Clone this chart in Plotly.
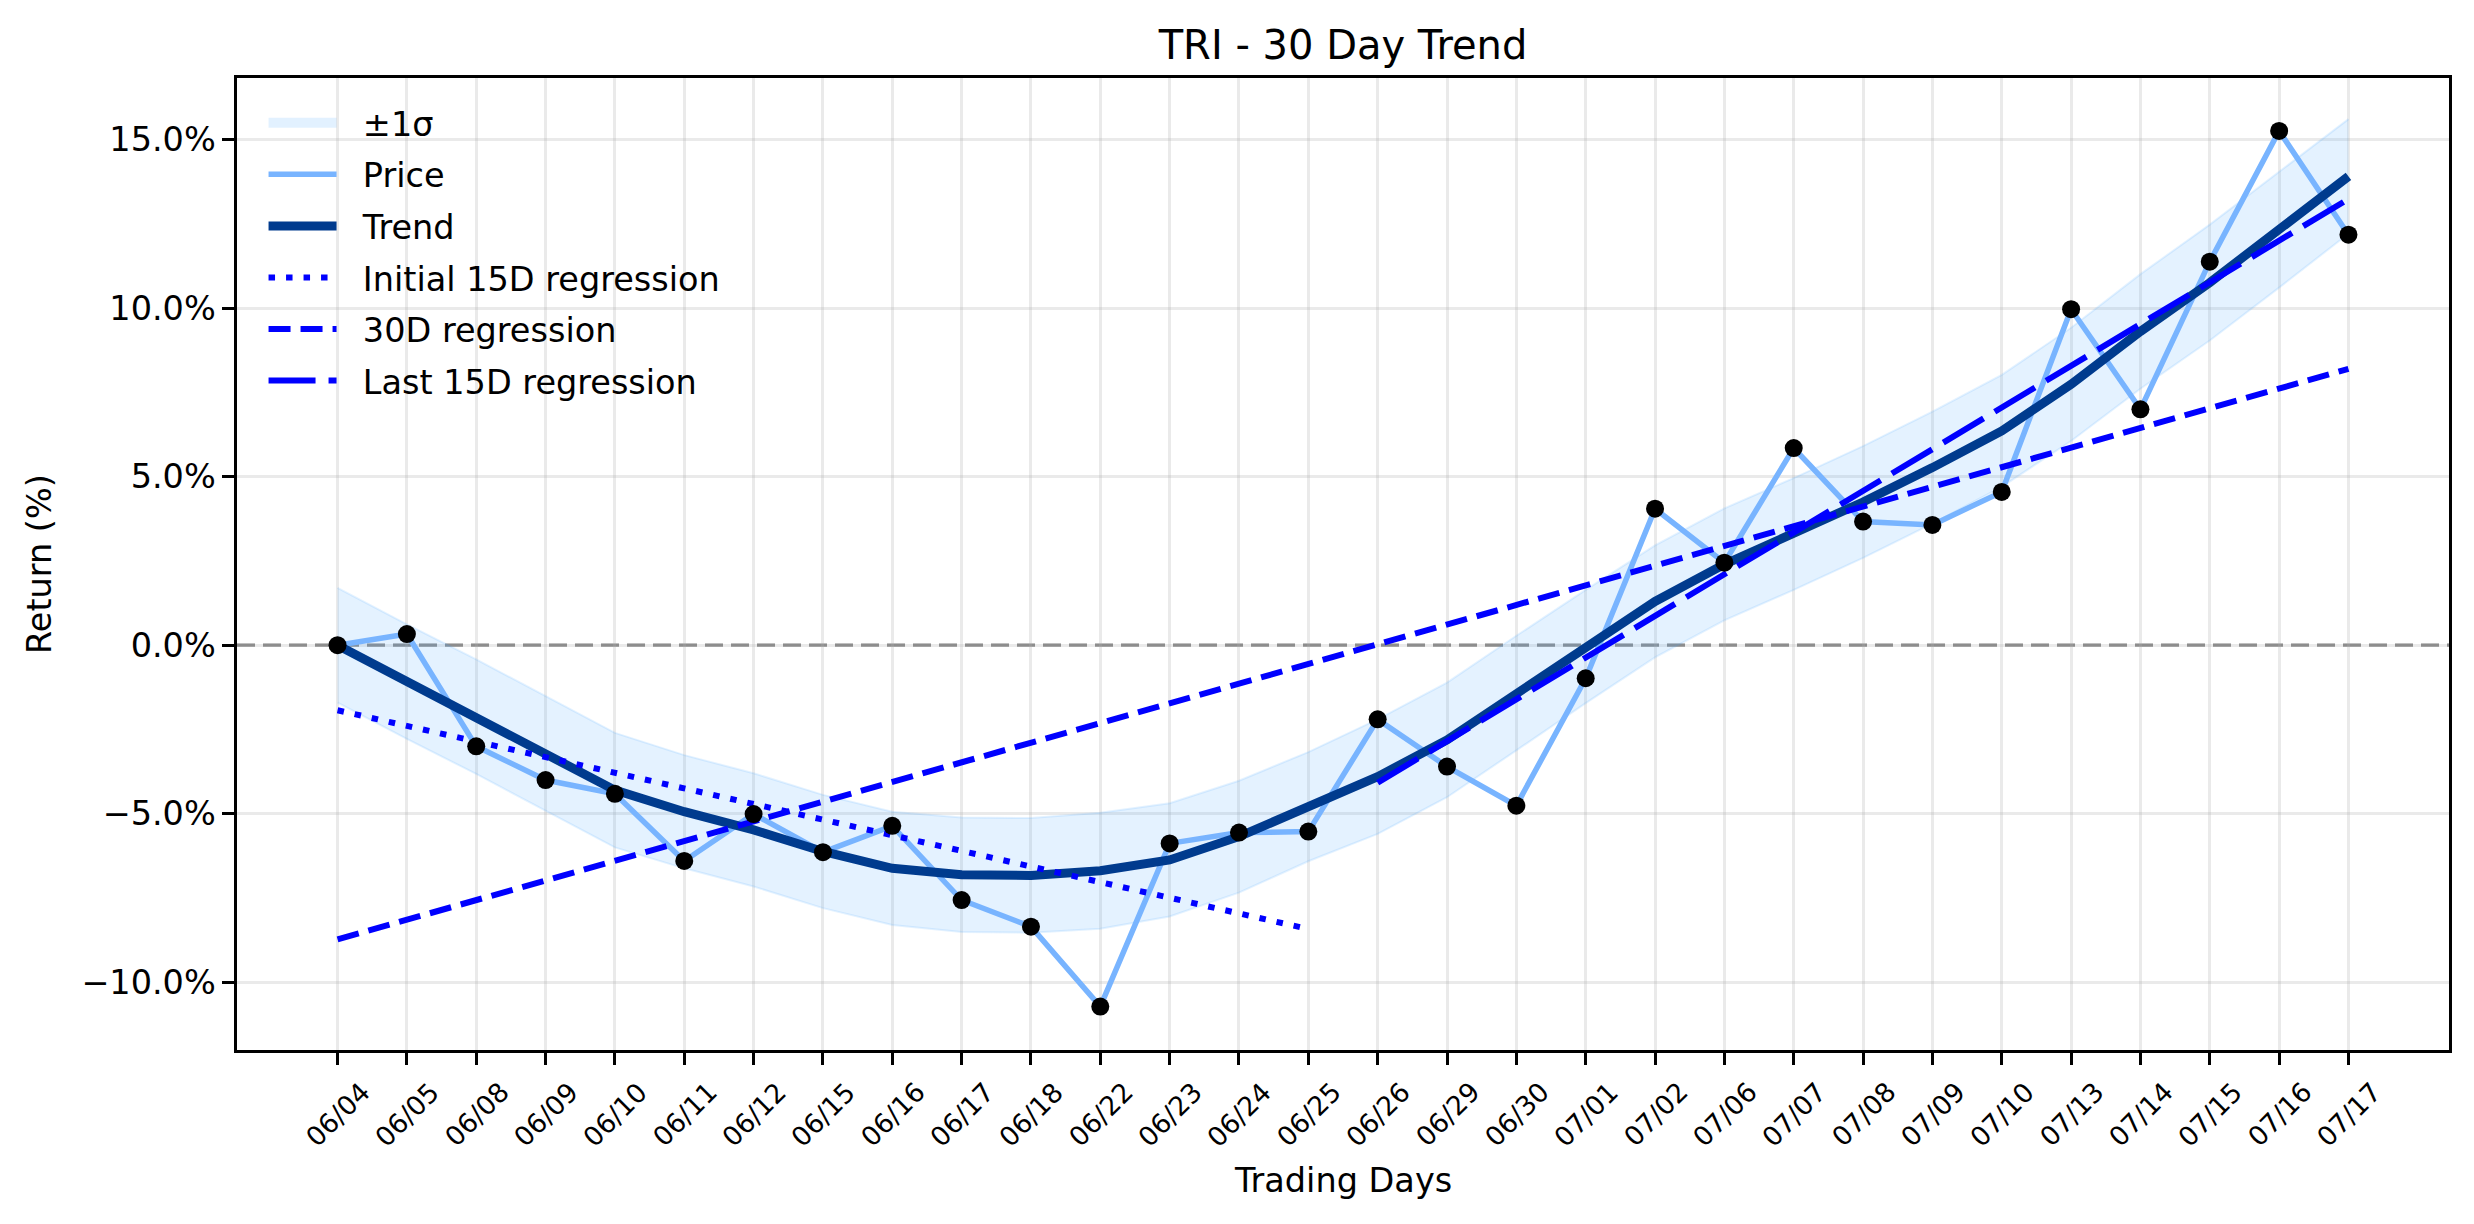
import plotly.graph_objects as go

# ---------------- data ----------------
dates = ["06/04", "06/05", "06/08", "06/09", "06/10", "06/11", "06/12", "06/15",
         "06/16", "06/17", "06/18", "06/22", "06/23", "06/24", "06/25", "06/26",
         "06/29", "06/30", "07/01", "07/02", "07/06", "07/07", "07/08", "07/09",
         "07/10", "07/13", "07/14", "07/15", "07/16", "07/17"]

price = [0.0, 0.33, -3.0, -4.0, -4.41, -6.40, -5.01, -6.14, -5.36, -7.56,
         -8.35, -10.72, -5.88, -5.56, -5.53, -2.20, -3.60, -4.76, -0.98, 4.05,
         2.45, 5.85, 3.67, 3.57, 4.55, 9.97, 7.00, 11.38, 15.26, 12.18]

trend = [0.0, -1.08, -2.12, -3.20, -4.30, -4.94, -5.48, -6.12, -6.62, -6.81,
         -6.83, -6.69, -6.37, -5.68, -4.79, -3.90, -2.81, -1.42, -0.04, 1.30,
         2.40, 3.30, 4.25, 5.27, 6.36, 7.74, 9.31, 10.76, 12.33, 13.91]

sigma = [1.70, 1.70, 1.70, 1.70, 1.70, 1.68, 1.68, 1.68, 1.68, 1.70,
         1.70, 1.72, 1.68, 1.66, 1.62, 1.70, 1.70, 1.70, 1.68, 1.66,
         1.66, 1.66, 1.66, 1.66, 1.66, 1.68, 1.70, 1.72, 1.72, 1.70]

init15_x = [0, 14]
init15_y = [-1.93, -8.42]
full30_x = [0, 29]
full30_y = [-8.73, 8.20]
last15_x = [15, 29]
last15_y = [-4.08, 13.24]

y_tickvals = [-10, -5, 0, 5, 10, 15]
y_ticktext = ["\u221210.0%", "\u22125.0%", "0.0%", "5.0%", "10.0%", "15.0%"]

# ---------------- figure ----------------
W, H = 2474, 1224
ML, MR, MT, MB = 237, 25, 78, 174
FONT = "DejaVu Sans"
PAD = "\u00a0\u00a0"

x = list(range(len(dates)))
upper = [t + s for t, s in zip(trend, sigma)]
lower = [t - s for t, s in zip(trend, sigma)]

band_rgba = "rgba(77,166,255,0.15)"

fig = go.Figure()

fig.add_trace(go.Scatter(x=x, y=lower, mode="lines",
                         line=dict(color=band_rgba, width=2),
                         showlegend=False, hoverinfo="skip"))
fig.add_trace(go.Scatter(x=x, y=upper, mode="lines", fill="tonexty",
                         fillcolor=band_rgba, line=dict(color=band_rgba, width=2),
                         showlegend=False, hoverinfo="skip"))
# legend handle for the band (a wide filled patch)
fig.add_trace(go.Scatter(x=[None], y=[None], mode="lines",
                         line=dict(color="rgba(77,166,255,0.16)", width=24),
                         name=PAD + "\u00b11\u03c3", legendgroup="g0", legendrank=1))

fig.add_trace(go.Scatter(x=x, y=price, mode="lines", name=PAD + "Price",
                         line=dict(color="#78b4ff", width=5.5),
                         legendgroup="g1", legendrank=2))
fig.add_trace(go.Scatter(x=x, y=trend, mode="lines", name=PAD + "Trend",
                         line=dict(color="#003b8e", width=9),
                         legendgroup="g2", legendrank=3))

fig.add_trace(go.Scatter(x=init15_x, y=init15_y, mode="lines",
                         name=PAD + "Initial 15D regression",
                         line=dict(color="#0000ff", width=6, dash="6.5px,11px"),
                         legendgroup="g3", legendrank=4))
fig.add_trace(go.Scatter(x=full30_x, y=full30_y, mode="lines",
                         name=PAD + "30D regression",
                         line=dict(color="#0000ff", width=6, dash="22px,10px"),
                         legendgroup="g4", legendrank=5))
fig.add_trace(go.Scatter(x=last15_x, y=last15_y, mode="lines",
                         name=PAD + "Last 15D regression",
                         line=dict(color="#0000ff", width=6, dash="47px,13px"),
                         legendgroup="g5", legendrank=6))

fig.add_trace(go.Scatter(x=x, y=price, mode="markers",
                         marker=dict(color="black", size=18),
                         showlegend=False, hoverinfo="skip"))

plot_h = H - MT - MB
annotations = []
for i, d in enumerate(dates):
    annotations.append(dict(x=i, y=-(1114 - (H - MB)) / plot_h, xref="x", yref="paper",
                            text=d, textangle=-45, showarrow=False,
                            xanchor="center", yanchor="middle",
                            font=dict(family=FONT, size=26.7, color="black")))
annotations.append(dict(x=0.5, y=-(1180 - (H - MB)) / plot_h, xref="paper", yref="paper",
                        text="Trading Days", showarrow=False,
                        xanchor="center", yanchor="middle",
                        font=dict(family=FONT, size=33.5, color="black")))
annotations.append(dict(x=-(ML - 39) / (W - ML - MR), y=0.5, xref="paper", yref="paper",
                        text="Return (%)", textangle=-90, showarrow=False,
                        xanchor="center", yanchor="middle",
                        font=dict(family=FONT, size=33.5, color="black")))

axis_common = dict(showgrid=True, gridcolor="rgba(176,176,176,0.27)", gridwidth=2.7,
                   showline=True, linecolor="black", linewidth=2.7, mirror=True,
                   ticks="outside", ticklen=11.7, tickwidth=2.7, tickcolor="black",
                   zeroline=False)

fig.update_layout(
    width=W, height=H,
    margin=dict(l=ML, r=MR, t=MT, b=MB, autoexpand=False),
    paper_bgcolor="white", plot_bgcolor="white",
    font=dict(family=FONT, color="black"),
    title=dict(text="TRI - 30 Day Trend", x=0.5 * (W - ML - MR) / W + ML / W,
               xanchor="center", y=1 - 45 / H, yanchor="middle", yref="container",
               font=dict(family=FONT, size=40, color="black")),
    xaxis=dict(range=[-1.45, 30.45], tickvals=x, showticklabels=False, **axis_common),
    yaxis=dict(range=[-12.01, 16.83], tickvals=y_tickvals, ticktext=y_ticktext,
               tickfont=dict(family=FONT, size=33.5, color="black"), **axis_common),
    legend=dict(x=0.012, y=0.983, xanchor="left", yanchor="top",
                bgcolor="rgba(0,0,0,0)", borderwidth=0,
                font=dict(family=FONT, size=33.5, color="black"),
                itemwidth=68, tracegroupgap=5, traceorder="grouped"),
    shapes=[dict(type="line", xref="paper", yref="y", x0=0, x1=1, y0=0, y1=0,
                 layer="between", line=dict(color="#808080", width=3.3, dash="18px,8px"))],
    annotations=annotations,
)

fig.write_html("out.html")
